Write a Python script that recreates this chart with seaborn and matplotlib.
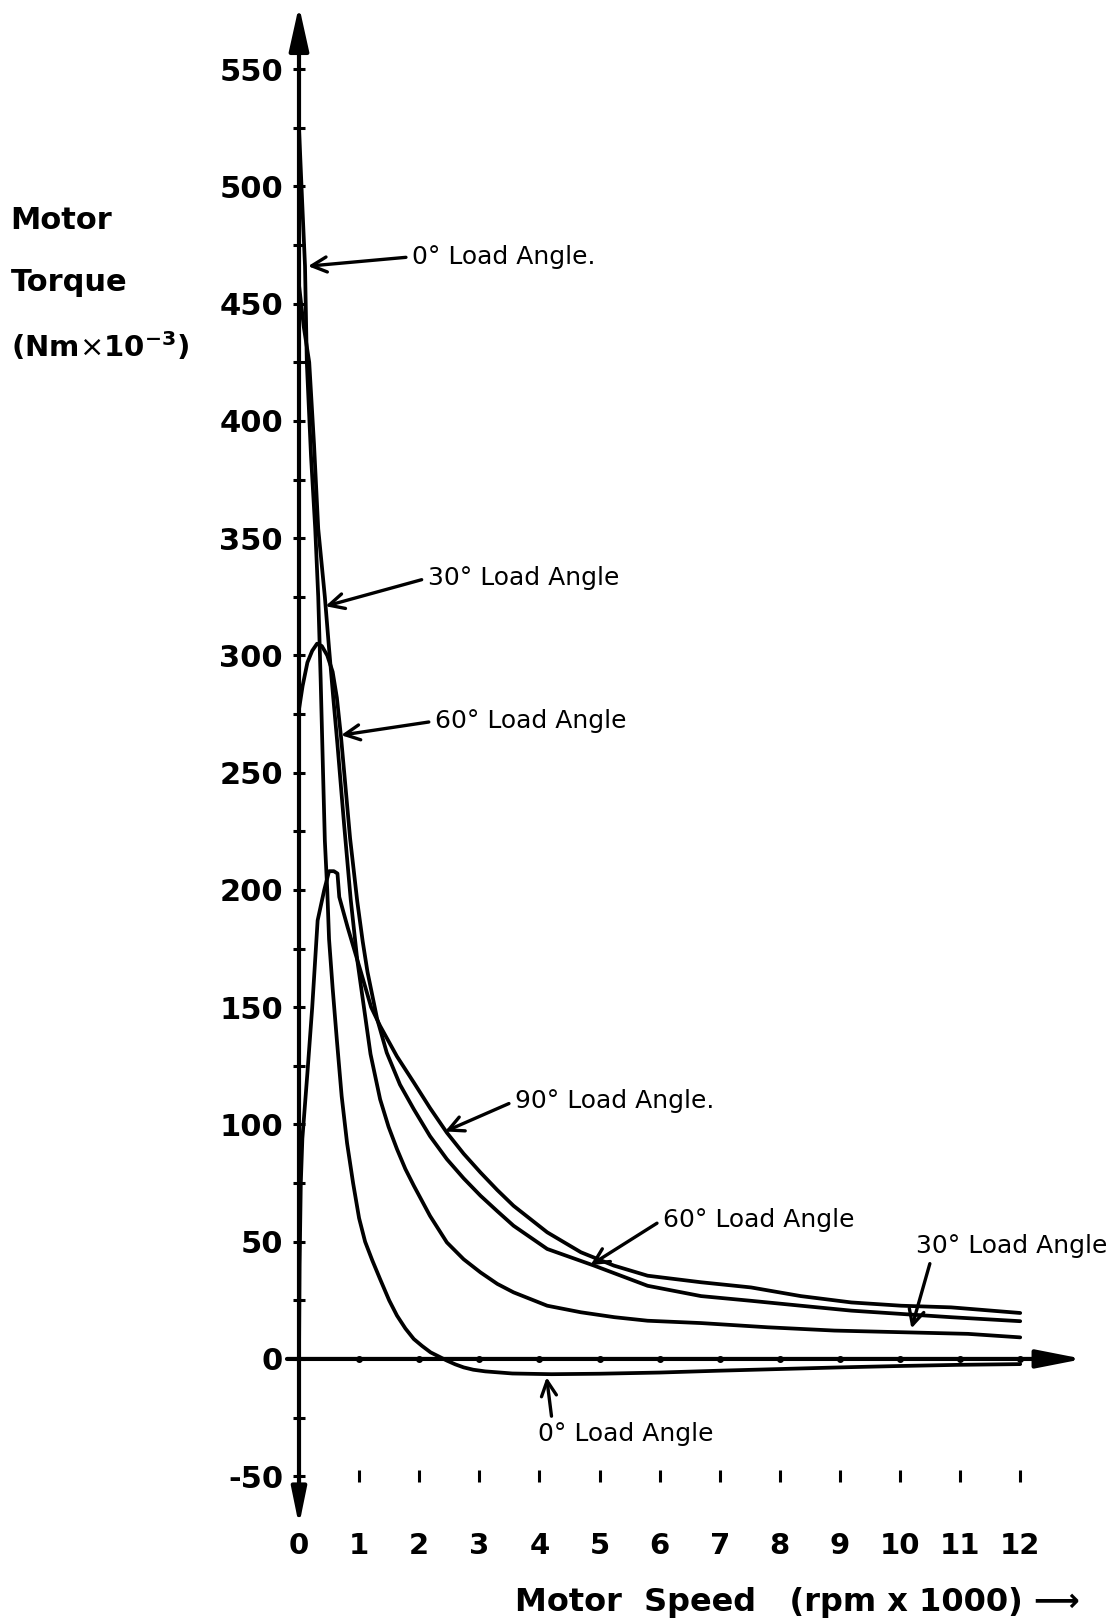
import numpy as np
import pandas as pd
import matplotlib
matplotlib.use("Agg")
import matplotlib.pyplot as plt
import seaborn as sns

# ---- data (speed in rpm x 1000, torque in Nm x 10^-3) ----
speed_0 = [0, 0.05, 0.1, 0.13, 0.2, 0.27, 0.32, 0.36, 0.4, 0.43, 0.47, 0.5, 0.56, 0.63,
           0.71, 0.8, 0.9, 1.0, 1.1, 1.22, 1.35, 1.5, 1.63, 1.77, 1.91, 2.05, 2.19,
           2.33, 2.46, 2.6, 2.74, 2.9, 3.1, 3.55, 4.2, 5.0, 6.0, 7.0, 8.0, 9.0, 10.0,
           11.0, 12.0]
torque_0 = [525, 495, 466, 425, 385, 354, 325, 290, 250, 221, 200, 179, 158, 136,
            112, 92, 75, 60, 50, 42, 34, 25, 18.5, 13, 8.5, 5.5, 2.8,
            1, -0.7, -2.3, -3.6, -4.6, -5.3, -6.2, -6.5, -6.3, -5.8, -5.0, -4.3, -3.6, -3.0,
            -2.5, -2.2]

speed_30 = [0, 0.08, 0.17, 0.25, 0.32, 0.43, 0.5, 0.57, 0.64, 0.75, 0.86, 0.97, 1.08,
            1.19, 1.35, 1.49, 1.63, 1.77, 1.91, 2.18, 2.46, 2.74, 3.02, 3.3, 3.57,
            4.13, 4.69, 5.25, 5.8, 6.69, 7.8, 8.91, 10.02, 11.13, 12.0]
torque_30 = [458, 440, 425, 390, 354, 325, 303, 282, 262, 228, 196, 170, 150,
             130, 110.7, 99, 89.5, 81, 73.9, 61, 49.7, 42.5, 36.9, 32, 28.4,
             22.7, 19.9, 17.8, 16.3, 15.3, 13.5, 12.1, 11.4, 10.7, 9.2]

speed_60 = [0, 0.06, 0.14, 0.22, 0.3, 0.38, 0.47, 0.56, 0.63, 0.7, 0.77, 0.85, 0.97,
            1.06, 1.14, 1.3, 1.46, 1.68, 1.91, 2.18, 2.46, 2.74, 3.02, 3.3, 3.57,
            4.13, 4.91, 5.8, 6.69, 7.52, 8.35, 9.19, 10.02, 10.85, 12.0]
torque_60 = [277, 287, 297, 302, 305, 304, 300, 293, 282, 265, 245, 222, 195,
             178, 165, 145, 130.6, 117, 106.5, 95, 85.2, 77, 69.6, 63, 56.8,
             46.9, 39.8, 31.2, 26.8, 24.8, 22.7, 20.6, 19.2, 17.8, 16.1]

speed_90 = [0, 0.01, 0.03, 0.056, 0.14, 0.22, 0.31, 0.42, 0.5, 0.58, 0.64, 0.67, 0.81,
            1.03, 1.2, 1.35, 1.63, 1.91, 2.18, 2.46, 2.74, 3.02, 3.3, 3.57, 4.13,
            4.69, 5.24, 5.8, 6.69, 7.52, 8.35, 9.19, 10.02, 10.85, 12.0]
torque_90 = [0, 40, 75, 94, 122, 150, 187, 200, 208, 208, 207, 197, 184,
             165, 150, 142, 129, 117.9, 107, 96.5, 87.5, 79.5, 72, 65.3, 54,
             45.5, 39.8, 35.5, 32.7, 30.5, 26.8, 24.1, 22.7, 22, 19.6]

x_ticks = list(range(0, 13))
x_tick_labels = [str(v) for v in x_ticks]
y_ticks = list(range(-50, 551, 50))
y_tick_labels = [str(v) for v in y_ticks]
y_minor = list(range(-25, 550, 50))

sns.set_style("white")
plt.rcParams["font.family"] = ["DejaVu Sans"]
plt.rcParams["text.color"] = "black"
plt.rcParams["axes.labelcolor"] = "black"

df = pd.concat([
    pd.DataFrame({"speed": speed_0, "torque": torque_0, "angle": "0"}),
    pd.DataFrame({"speed": speed_30, "torque": torque_30, "angle": "30"}),
    pd.DataFrame({"speed": speed_60, "torque": torque_60, "angle": "60"}),
    pd.DataFrame({"speed": speed_90, "torque": torque_90, "angle": "90"}),
], ignore_index=True)

fig = plt.figure(figsize=(11.07, 16.23), dpi=100)
ax = fig.add_axes([0, 0, 1, 1])

sns.lineplot(data=df, x="speed", y="torque", units="angle", estimator=None,
             sort=False, color="black", lw=2.7, ax=ax, legend=False)

ax.set_xlim(-4.975, 13.444)
ax.set_ylim(-112.6, 579.5)
ax.set_xlabel("")
ax.set_ylabel("")
for s in ["top", "right", "left", "bottom"]:
    ax.spines[s].set_visible(False)
ax.spines["left"].set_position(("data", 0))
ax.spines["bottom"].set_position(("data", -50))

ax.set_yticks(y_ticks)
ax.set_yticklabels(y_tick_labels, fontweight="bold")
ax.set_yticks(y_minor, minor=True)
ax.set_xticks(x_ticks)
ax.set_xticklabels(x_tick_labels, fontweight="bold")
ax.tick_params(axis="y", which="both", left=True, direction="inout", length=9,
               width=2.2, pad=7, labelsize=22, colors="black")
ax.tick_params(axis="x", which="both", bottom=True, direction="inout", length=8,
               width=2.2, pad=36, labelsize=21, colors="black")

# axes lines with arrow heads
ax.annotate("", xy=(0, 577), xytext=(0, 250),
            arrowprops=dict(arrowstyle="-|>,head_length=0.27,head_width=0.06",
                            mutation_scale=100, lw=3, color="black",
                            shrinkA=0, shrinkB=0))
ax.annotate("", xy=(0, -71), xytext=(0, 250),
            arrowprops=dict(arrowstyle="-|>,head_length=0.22,head_width=0.045",
                            mutation_scale=100, lw=3, color="black",
                            shrinkA=0, shrinkB=0))
ax.annotate("", xy=(13.05, 0), xytext=(-0.2, 0),
            arrowprops=dict(arrowstyle="-|>,head_length=0.28,head_width=0.055",
                            mutation_scale=100, lw=3, color="black",
                            shrinkA=0, shrinkB=0))
ax.plot(x_ticks[1:], [0] * len(x_ticks[1:]), "o", color="black", ms=4)

# curve labels
arrow_kw = dict(arrowstyle="->,head_length=0.6,head_width=0.3", lw=2.4,
                color="black", shrinkA=2, shrinkB=0)
labels = [
    ("0° Load Angle.", (0.15, 466), (1.88, 470), (0, 0.5)),
    ("30° Load Angle", (0.44, 321), (2.14, 333), (0, 0.5)),
    ("60° Load Angle", (0.70, 266), (2.26, 272), (0, 0.5)),
    ("90° Load Angle.", (2.43, 97), (3.59, 110), (0, 0.5)),
    ("60° Load Angle", (4.85, 40), (6.05, 59.4), (0, 0.5)),
    ("30° Load Angle", (10.19, 13), (10.27, 48.3), (0.08, 0.0)),
    ("0° Load Angle", (4.12, -7.8), (3.98, -32.1), (0.08, 1.0)),
]
for txt, tip, pos, rel in labels:
    ax.annotate(txt, xy=tip, xytext=pos, ha="left", va="center", fontsize=18,
                arrowprops=dict(relpos=rel, **arrow_kw))

# axis titles
ax.text(-4.8, 485.5, "Motor", ha="left", va="center", fontsize=22, fontweight="bold")
ax.text(-4.8, 459, "Torque", ha="left", va="center", fontsize=22, fontweight="bold")
ax.text(-4.8, 431.6, r"(Nm$\times$10$^{\mathbf{-3}}$)", ha="left", va="center",
        fontsize=21, fontweight="bold")
ax.text(3.59, -104, "Motor  Speed   (rpm x 1000) ⟶", ha="left", va="center",
        fontsize=23, fontweight="bold")

fig.savefig("out.png", dpi=100)
